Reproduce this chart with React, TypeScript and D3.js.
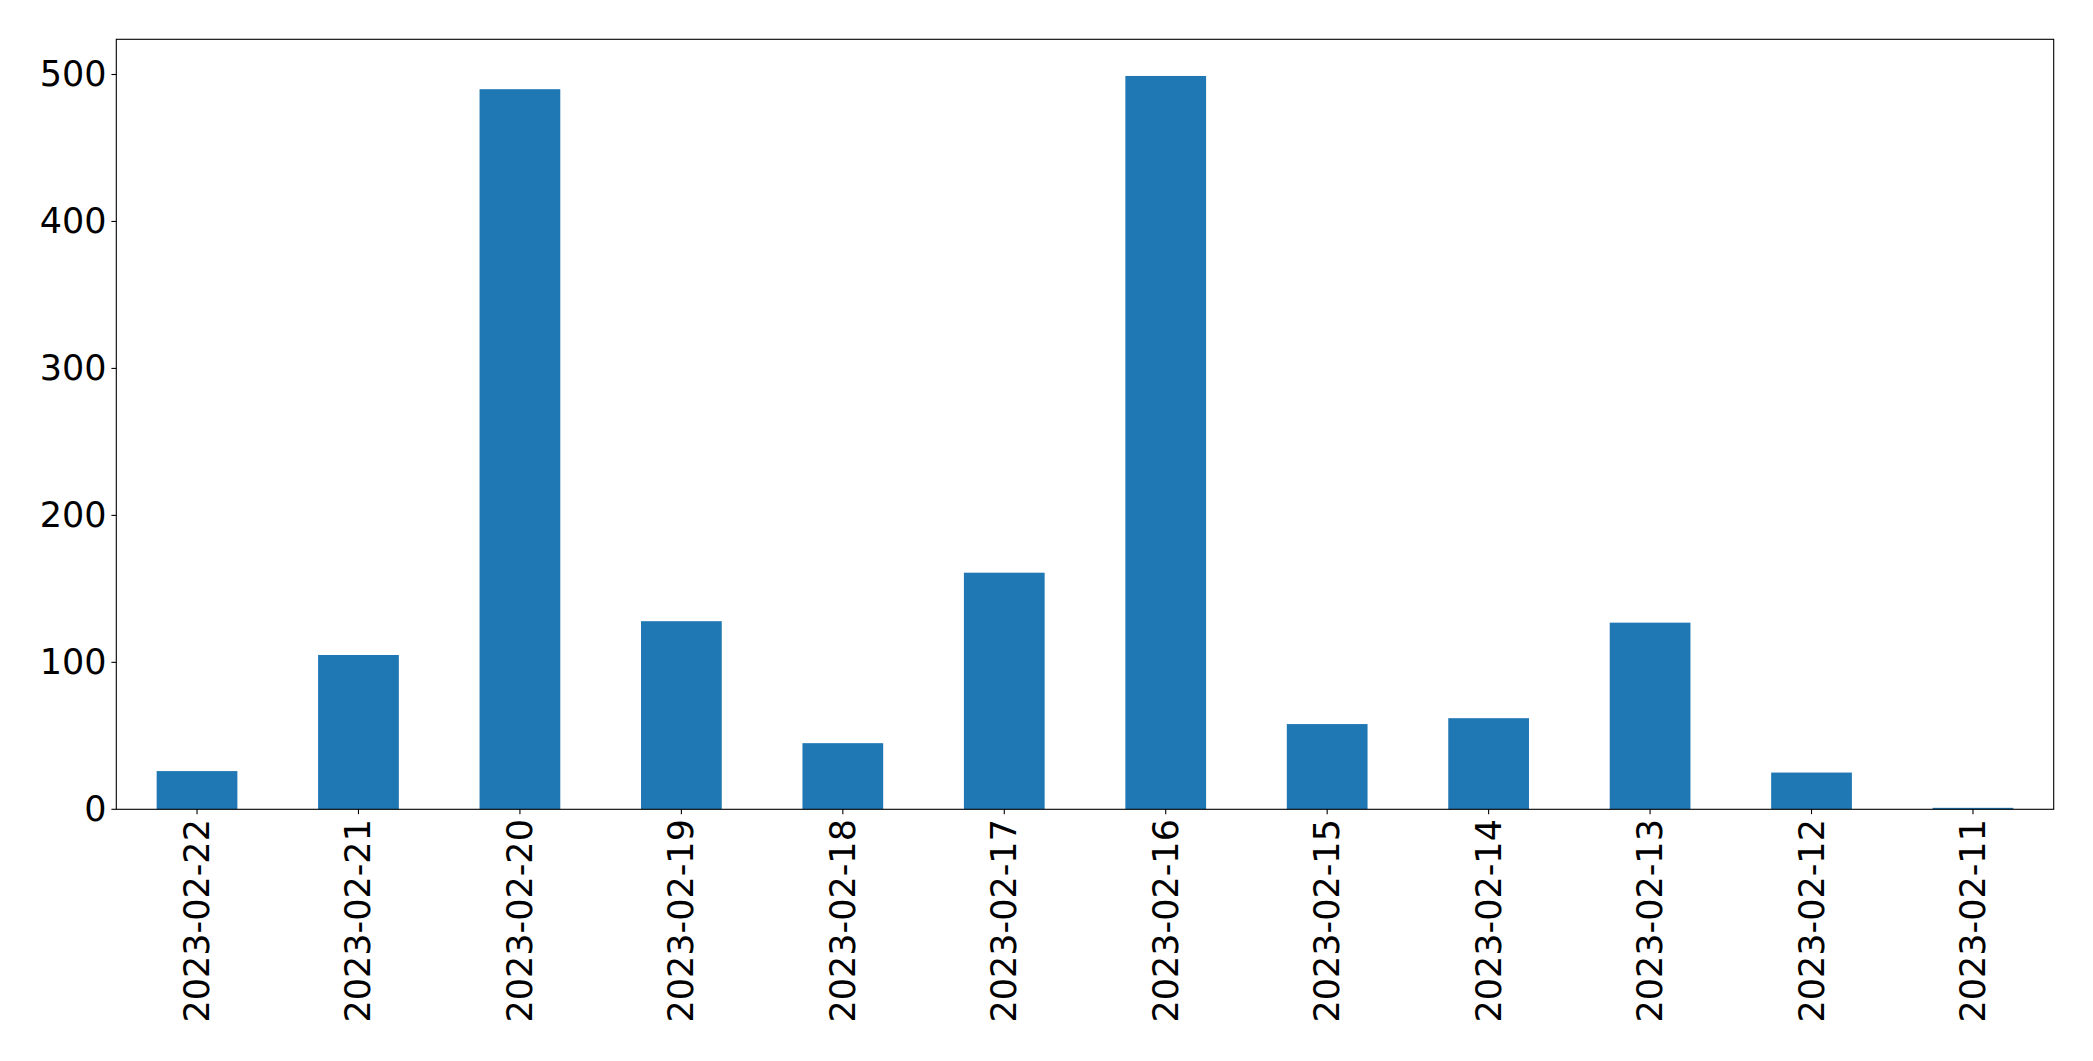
import React from "react";
import * as d3 from "d3";

const categories = [
  "2023-02-22", "2023-02-21", "2023-02-20", "2023-02-19", "2023-02-18", "2023-02-17",
  "2023-02-16", "2023-02-15", "2023-02-14", "2023-02-13", "2023-02-12", "2023-02-11",
];
const values = [26, 105, 490, 128, 45, 161, 499, 58, 62, 127, 25, 1];
const yTicks = [0, 100, 200, 300, 400, 500];

const W = 2093;
const H = 1061;
const left = 116.3;
const right = 2053.7;
const top = 39.3;
const bottom = 809.3;
const FONT = "DejaVu Sans, sans-serif";
const FS = 35;

export default function App() {
  const x = d3.scaleLinear().domain([-0.5, categories.length - 0.5]).range([left, right]);
  const ymax = (d3.max(values) as number) * 1.05;
  const y = d3.scaleLinear().domain([0, ymax]).range([bottom, top]);
  const bw = x(0.25) - x(-0.25);
  return (
    <svg width={W} height={H} style={{ position: "absolute", left: 0, top: 0 }}>
      <rect x={0} y={0} width={W} height={H} fill="#fff" />
      {values.map((v, i) => (
        <rect key={i} x={x(i) - bw / 2} y={y(v)} width={bw} height={y(0) - y(v)} fill="#1f77b4" />
      ))}
      <rect x={left} y={top} width={right - left} height={bottom - top} fill="none" stroke="#000" strokeWidth={1.1} />
      {yTicks.map((t) => (
        <g key={t}>
          <line x1={left - 4.9} x2={left} y1={y(t)} y2={y(t)} stroke="#000" strokeWidth={1.1} />
          <text x={left - 9.8} y={y(t)} textAnchor="end" dominantBaseline="central" fontFamily={FONT} fontSize={FS} fill="#000">
            {t}
          </text>
        </g>
      ))}
      {categories.map((c, i) => (
        <g key={c}>
          <line x1={x(i)} x2={x(i)} y1={bottom} y2={bottom + 4.9} stroke="#000" strokeWidth={1.1} />
          <text
            transform={`translate(${x(i)},${bottom + 9.8}) rotate(-90)`}
            textAnchor="end"
            dominantBaseline="central"
            fontFamily={FONT}
            fontSize={FS}
            fill="#000"
          >
            {c}
          </text>
        </g>
      ))}
    </svg>
  );
}
